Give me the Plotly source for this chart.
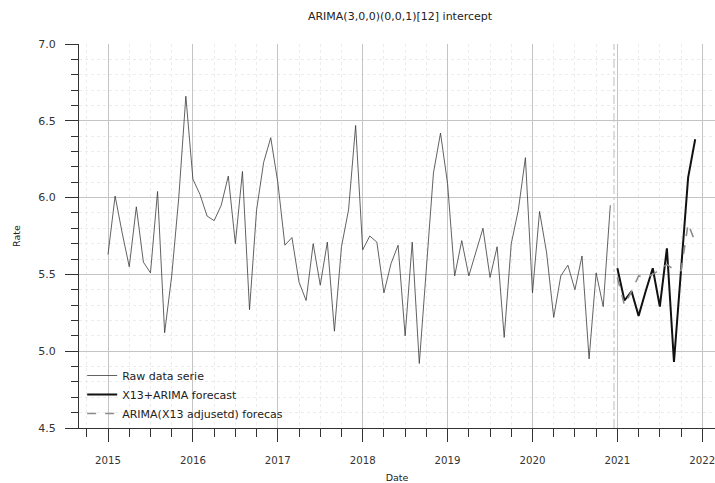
import plotly.graph_objects as go

# ---- data ----
raw_start_year = 2015
raw_values = [
    5.63, 6.01, 5.77, 5.55, 5.94, 5.58, 5.51, 6.04, 5.12, 5.49, 6.00, 6.66,
    6.12, 6.02, 5.88, 5.85, 5.95, 6.14, 5.70, 6.17, 5.27, 5.92, 6.23, 6.39,
    6.10, 5.69, 5.74, 5.45, 5.33, 5.70, 5.43, 5.71, 5.13, 5.68, 5.92, 6.47,
    5.66, 5.75, 5.71, 5.38, 5.57, 5.69, 5.10, 5.71, 4.92, 5.55, 6.16, 6.42,
    6.09, 5.49, 5.72, 5.49, 5.64, 5.80, 5.48, 5.68, 5.09, 5.70, 5.92, 6.26,
    5.38, 5.91, 5.64, 5.22, 5.49, 5.56, 5.40, 5.62, 4.95, 5.51, 5.29, 5.95,
]
fc_start_year = 2021
x13_forecast = [5.54, 5.33, 5.39, 5.23, 5.39, 5.54, 5.29, 5.67, 4.93, 5.53, 6.13, 6.38]
arima_adj_forecast = [5.48, 5.30, 5.39, 5.49, 5.48, 5.50, 5.53, 5.565, 5.53, 5.525, 5.83, 5.71]
forecast_origin = 2020.96

title_text = "ARIMA(3,0,0)(0,0,1)[12] intercept"
series_names = ["Raw data serie", "X13+ARIMA forecast", "ARIMA(X13 adjusetd) forecas"]
x_title = "Date"
y_title = "Rate"

raw_x = [raw_start_year + i / 12 for i in range(len(raw_values))]
fc_x = [fc_start_year + i / 12 for i in range(len(x13_forecast))]

FONT = "DejaVu Sans"
W, H = 715, 483

fig = go.Figure()
fig.add_trace(go.Scatter(x=raw_x, y=raw_values, mode="lines", name=series_names[0],
                         line=dict(color="#3a3a3a", width=0.8)))
fig.add_trace(go.Scatter(x=fc_x, y=x13_forecast, mode="lines", name=series_names[1],
                         line=dict(color="#111111", width=2)))
fig.add_trace(go.Scatter(x=fc_x, y=arima_adj_forecast, mode="lines", name=series_names[2],
                         line=dict(color="#8c8c8c", width=1.6, dash="dash")))

fig.add_vline(x=forecast_origin, line=dict(color="#c8c8c8", width=1.2, dash="dashdot"))

fig.update_layout(
    width=W, height=H,
    margin=dict(l=79, r=0, t=44, b=55),
    paper_bgcolor="white", plot_bgcolor="white",
    font=dict(family=FONT, size=11, color="#333333"),
    title=dict(text=title_text, x=400 / W, xanchor="center",
               y=1 - 16 / H, yanchor="middle", font=dict(size=11, color="#222222")),
    showlegend=True,
    legend=dict(x=0.005, xanchor="left", y=0.0, yanchor="bottom",
                bgcolor="rgba(0,0,0,0)", borderwidth=0,
                font=dict(size=11, color="#222222"), tracegroupgap=0),
)

fig.update_xaxes(
    range=[2014.658, 2022.15], tickmode="linear", tick0=2015, dtick=1,
    tickformat="d", automargin=False, ticklabeloverflow="allow",
    tickfont=dict(size=10.2),
    showgrid=True, gridcolor="#c4c4c4", gridwidth=1,
    ticks="outside", ticklen=13, tickwidth=1, tickcolor="#333333",
    showline=True, linecolor="#333333", linewidth=1,
    zeroline=False, ticklabelstandoff=10,
    minor=dict(tickmode="linear", dtick=0.25, ticks="outside", ticklen=8,
               tickcolor="#333333", showgrid=True, gridcolor="#ececec", griddash="dot"),
    title=dict(text=x_title, standoff=20, font=dict(size=9.5, color="#222222")),
)
fig.update_yaxes(
    range=[4.5, 7.0], tickmode="linear", tick0=4.5, dtick=0.5,
    tickformat=".1f", automargin=False,
    showgrid=True, gridcolor="#c4c4c4", gridwidth=1,
    ticks="outside", ticklen=13, tickwidth=1, tickcolor="#333333",
    showline=True, linecolor="#333333", linewidth=1,
    zeroline=False, ticklabelstandoff=7,
    minor=dict(tickmode="linear", dtick=0.1, ticks="outside", ticklen=7,
               tickcolor="#333333", showgrid=True, gridcolor="#ececec", griddash="dot"),
    title=dict(text=y_title, standoff=15, font=dict(size=9.5, color="#222222")),
)

fig.write_html("out.html", config={"displayModeBar": False},
               post_script="document.body.style.margin='0';document.body.style.overflow='hidden';")
